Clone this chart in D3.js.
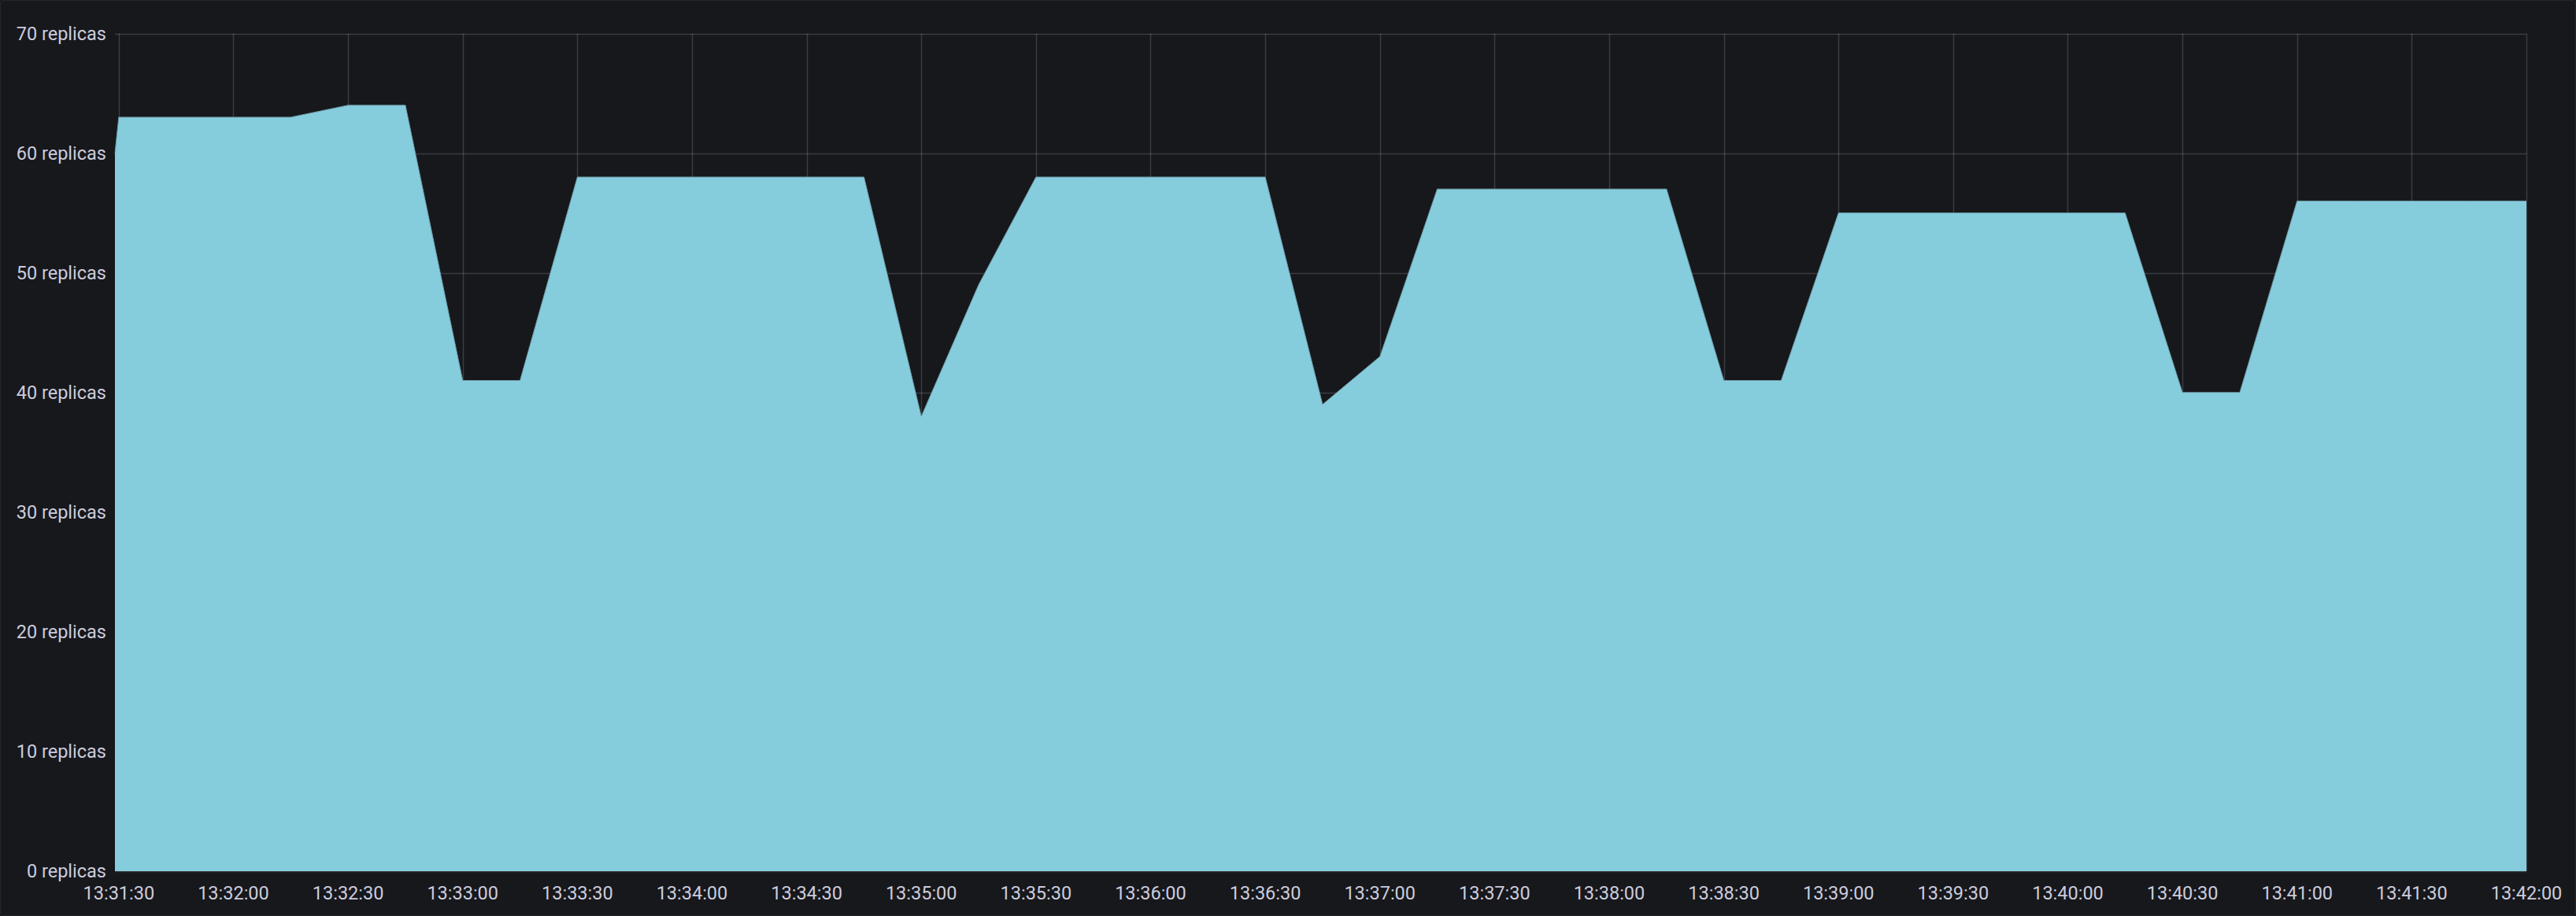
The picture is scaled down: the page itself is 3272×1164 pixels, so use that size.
<!DOCTYPE html>
<html>
<head>
<meta charset="utf-8">
<script src="https://cdn.jsdelivr.net/npm/d3@7"></script>
<style>
  html, body { margin: 0; padding: 0; background: #17181c; }
  svg { display: block; }
</style>
</head>
<body>
<svg id="chart" width="3272" height="1164"></svg>
<script>
// ---- data ----
const times = [
  "13:31:29","13:31:30","13:31:45","13:32:00","13:32:15","13:32:30","13:32:45",
  "13:33:00","13:33:15","13:33:30","13:33:45","13:34:00","13:34:15","13:34:30","13:34:45",
  "13:35:00","13:35:15","13:35:30","13:35:45","13:36:00","13:36:15","13:36:30","13:36:45",
  "13:37:00","13:37:15","13:37:30","13:37:45","13:38:00","13:38:15","13:38:30","13:38:45",
  "13:39:00","13:39:15","13:39:30","13:39:45","13:40:00","13:40:15","13:40:30","13:40:45",
  "13:41:00","13:41:15","13:41:30","13:41:45","13:42:00"
];
const replicas = [
  60,63,63,63,63,64,64,
  41,41,58,58,58,58,58,58,
  38,49,58,58,58,58,58,39,
  43,57,57,57,57,57,41,41,
  55,55,55,55,55,55,40,40,
  56,56,56,56,56
];
const yTicks = [0,10,20,30,40,50,60,70];
const xTickLabels = [
  "13:31:30","13:32:00","13:32:30","13:33:00","13:33:30","13:34:00","13:34:30",
  "13:35:00","13:35:30","13:36:00","13:36:30","13:37:00","13:37:30","13:38:00",
  "13:38:30","13:39:00","13:39:30","13:40:00","13:40:30","13:41:00","13:41:30","13:42:00"
];
const timeStart = "13:31:29";
const timeEnd = "13:42:00";

// ---- setup ----
const parse = s => new Date("2024-01-01T" + s + "Z");
const data = times.map((t, i) => ({ t: parse(t), v: replicas[i] }));

const svg = d3.select("#chart");
const W = 3272, H = 1164;
const margin = { left: 146, right: W - 3209, top: 42.5, bottom: H - 1107 };

const x = d3.scaleUtc()
  .domain([parse(timeStart), parse(timeEnd)])
  .range([margin.left, W - margin.right]);
const y = d3.scaleLinear()
  .domain([0, 70])
  .range([H - margin.bottom, margin.top]);

const textColor = "#ccccdc";
const gridColor = "rgba(204,204,220,0.2)";
const font = "Roboto, 'Open Sans', sans-serif";

// panel border
svg.append("rect")
  .attr("x", 0.5).attr("y", 0.5)
  .attr("width", W - 1).attr("height", H - 1)
  .attr("rx", 3)
  .attr("fill", "#17181c")
  .attr("stroke", "rgba(204,204,220,0.08)");

// grid
const xTickDates = xTickLabels.map(parse);
svg.append("g")
  .selectAll("line.vg")
  .data(xTickDates)
  .join("line")
  .attr("x1", d => Math.round(x(d)) + 0.5).attr("x2", d => Math.round(x(d)) + 0.5)
  .attr("y1", y(70)).attr("y2", y(0))
  .attr("stroke", gridColor).attr("stroke-width", 1.5);

svg.append("g")
  .selectAll("line.hg")
  .data(yTicks)
  .join("line")
  .attr("x1", x.range()[0]).attr("x2", x.range()[1])
  .attr("y1", d => Math.round(y(d)) + 0.5).attr("y2", d => Math.round(y(d)) + 0.5)
  .attr("stroke", gridColor).attr("stroke-width", 1.5);

// area
const area = d3.area()
  .x(d => x(d.t))
  .y0(y(0))
  .y1(d => y(d.v));
svg.append("path")
  .datum(data)
  .attr("d", area)
  .attr("fill", "#85cddd");

const line = d3.line()
  .x(d => x(d.t))
  .y(d => y(d.v));
svg.append("path")
  .datum(data)
  .attr("d", line)
  .attr("fill", "none")
  .attr("stroke", "#6f9aa6")
  .attr("stroke-width", 1);

// y axis labels
svg.append("g")
  .selectAll("text")
  .data(yTicks)
  .join("text")
  .attr("x", 135)
  .attr("y", d => y(d))
  .attr("dy", "0.36em")
  .attr("text-anchor", "end")
  .attr("fill", textColor)
  .attr("font-family", font)
  .attr("font-size", 23.5)
  .text(d => d + " replicas");

// x axis labels
const fmt = d3.utcFormat("%H:%M:%S");
svg.append("g")
  .selectAll("text")
  .data(xTickDates)
  .join("text")
  .attr("x", d => x(d))
  .attr("y", 1143)
  .attr("text-anchor", "middle")
  .attr("fill", textColor)
  .attr("font-family", font)
  .attr("font-size", 23.5)
  .text(d => fmt(d));
</script>
</body>
</html>
